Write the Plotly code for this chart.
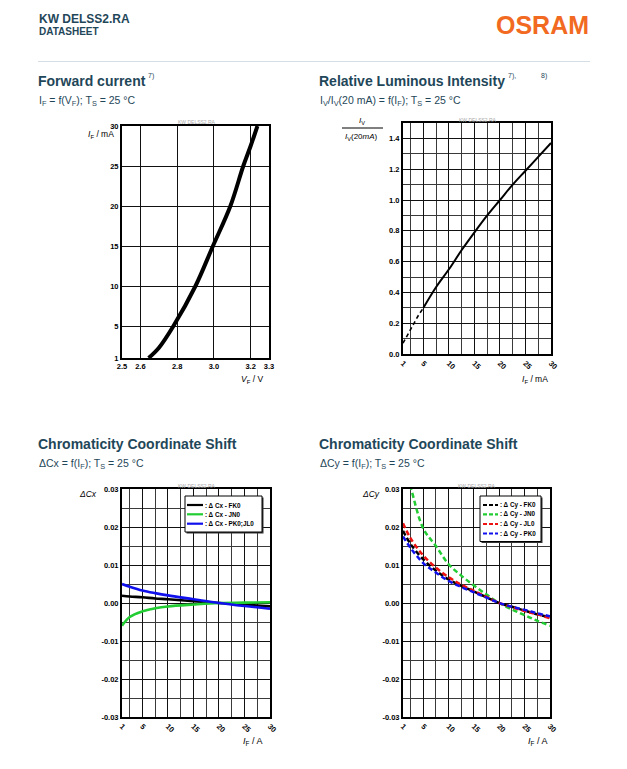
import plotly.graph_objects as go

W, H = 627, 769
OX, OY = 8, 8  # page body margin of the rendered html


def px(x):
    return (x - OX) / W


def py(y):
    return 1 - (y - OY) / H


FONT = "Liberation Sans, Arial, sans-serif"
TEAL = "#1f4759"
ORANGE = "#f26a21"

# ---------------- data ----------------
# Forward current
fc_vf = [2.645, 2.70, 2.78, 2.90, 2.995, 3.09, 3.16, 3.20, 3.237]
fc_if = [1, 2.25, 5, 10, 15, 20, 25, 27.5, 30]

# Relative luminous intensity
rl_if_dash = [1, 2, 3, 4, 5]
rl_iv_dash = [0.07, 0.13, 0.19, 0.25, 0.30]
rl_if = [5, 7.5, 10, 12.5, 15, 17.5, 20, 22.5, 25, 27.5, 30]
rl_iv = [0.30, 0.435, 0.55, 0.675, 0.79, 0.90, 1.00, 1.10, 1.19, 1.28, 1.37]

# Chromaticity shift Cx
cx_if = [1, 2.5, 5, 7.5, 10, 15, 20, 25, 30]
cx_fk0 = [0.0019, 0.0017, 0.0015, 0.0012, 0.0010, 0.0005, 0.0, -0.0004, -0.0009]
cx_jn0 = [-0.0060, -0.0037, -0.0022, -0.0014, -0.0009, -0.0004, 0.0, 0.0001, 0.0002]
cx_pk0jl0 = [0.0050, 0.0043, 0.0033, 0.0026, 0.0020, 0.0010, 0.0, -0.0008, -0.0015]
cx_names = [": \u0394 Cx - FK0", ": \u0394 Cx - JN0", ": \u0394 Cx - PK0;JL0"]
cx_colors = ["#000000", "#22cc33", "#1010ee"]

# Chromaticity shift Cy
cy_if = [1, 2.5, 5, 7.5, 10, 12.5, 15, 17.5, 20, 22.5, 25, 27.5, 30]
cy_fk0 = [0.0190, 0.0155, 0.0115, 0.0085, 0.0062, 0.0045, 0.0030, 0.0015, 0.0, -0.0010, -0.0020, -0.0030, -0.0038]
cy_jn0 = [0.0370, 0.0305, 0.0196, 0.0150, 0.0102, 0.0072, 0.0046, 0.0022, 0.0, -0.0017, -0.0032, -0.0047, -0.0060]
cy_jl0 = [0.0210, 0.0170, 0.0125, 0.0093, 0.0068, 0.0048, 0.0032, 0.0016, 0.0, -0.0011, -0.0021, -0.0030, -0.0040]
cy_pk0 = [0.0175, 0.0145, 0.0105, 0.0080, 0.0058, 0.0042, 0.0028, 0.0014, 0.0, -0.0010, -0.0018, -0.0027, -0.0035]
cy_names = [": \u0394 Cy - FK0", ": \u0394 Cy - JN0", ": \u0394 Cy - JL0", ": \u0394 Cy - PK0"]
cy_colors = ["#000000", "#22cc33", "#ee1111", "#1010ee"]

# tick labels
fc_xt = [2.5, 2.6, 2.8, 3.0, 3.2, 3.3]
fc_xl = ["2.5", "2.6", "2.8", "3.0", "3.2", "3.3"]
fc_yt = [1, 5, 10, 15, 20, 25, 30]
rl_yt = [0, 0.2, 0.4, 0.6, 0.8, 1.0, 1.2, 1.4]
if_t = [1, 5, 10, 15, 20, 25, 30]
c_yt = [0.03, 0.02, 0.01, 0.0, -0.01, -0.02, -0.03]
c_yl = ["0.03", "0.02", "0.01", "0.00", "-0.01", "-0.02", "-0.03"]

# ---------------- figure ----------------
fig = go.Figure()

fig.add_trace(go.Scatter(x=fc_vf, y=fc_if, mode="lines", line=dict(color="black", width=4, shape="spline"),
                         xaxis="x", yaxis="y", showlegend=False))
fig.add_trace(go.Scatter(x=rl_if_dash, y=rl_iv_dash, mode="lines", line=dict(color="black", width=1.6, dash="4px,3px"),
                         xaxis="x2", yaxis="y2", showlegend=False))
fig.add_trace(go.Scatter(x=rl_if, y=rl_iv, mode="lines", line=dict(color="black", width=2, shape="spline"),
                         xaxis="x2", yaxis="y2", showlegend=False))
for ys, nm, col in zip([cx_fk0, cx_jn0, cx_pk0jl0], cx_names, cx_colors):
    fig.add_trace(go.Scatter(x=cx_if, y=ys, name=nm, mode="lines", line=dict(color=col, width=2.6, shape="spline"),
                             xaxis="x3", yaxis="y3", showlegend=False))
for ys, nm, col in zip([cy_jn0, cy_fk0, cy_jl0, cy_pk0], [cy_names[1], cy_names[0], cy_names[2], cy_names[3]],
                       [cy_colors[1], cy_colors[0], cy_colors[2], cy_colors[3]]):
    fig.add_trace(go.Scatter(x=cy_if, y=ys, name=nm, mode="lines",
                             line=dict(color=col, width=2.5, dash="5px,3px", shape="spline"),
                             xaxis="x4", yaxis="y4", showlegend=False))

GRID = "#111111"
GRID2 = "#3a3a3a"
TF = dict(family=FONT, size=7.5, color="black")


def ax(domain, rng, tickvals, ticktext, anchor, minor=None, angle=0):
    d = dict(domain=domain, range=rng, tickmode="array", tickvals=tickvals,
             ticktext=["<b>%s</b>" % t for t in ticktext], tickfont=TF, ticks="", showgrid=True,
             gridcolor=GRID, gridwidth=1.3, zeroline=False, showline=True, linecolor="black",
             linewidth=2, mirror=True, anchor=anchor, tickangle=angle, fixedrange=True,
             automargin=False)
    if minor:
        d["minor"] = dict(showgrid=True, gridcolor=GRID2, gridwidth=1.2, ticks="", **minor)
    return d


ifl = [str(v) for v in if_t]

layout = dict(
    template="none",
    width=W, height=H, autosize=False, margin=dict(l=0, r=0, t=0, b=0, pad=0, autoexpand=False),
    paper_bgcolor="white", plot_bgcolor="white", font=dict(family=FONT, color="black"),
    showlegend=False,
    xaxis=ax([px(122), px(269)], [2.5, 3.3], fc_xt, fc_xl, "y"),
    yaxis=ax([py(358), py(126)], [1, 30], fc_yt, [str(v) for v in fc_yt], "x"),
    xaxis2=ax([px(403), px(551)], [1, 30], if_t, ifl, "y2", minor=dict(tick0=0, dtick=2.5), angle=45),
    yaxis2=ax([py(354), py(123)], [0, 1.5], rl_yt, ["%.1f" % v for v in rl_yt], "x2", minor=dict(tick0=0, dtick=0.1)),
    xaxis3=ax([px(122), px(270)], [1, 30], if_t, ifl, "y3", minor=dict(tick0=0, dtick=2.5), angle=45),
    yaxis3=ax([py(717), py(489)], [-0.03, 0.03], c_yt, c_yl, "x3", minor=dict(tick0=0, dtick=0.005)),
    xaxis4=ax([px(403), px(550)], [1, 30], if_t, ifl, "y4", minor=dict(tick0=0, dtick=2.5), angle=45),
    yaxis4=ax([py(717), py(489)], [-0.03, 0.03], c_yt, c_yl, "x4", minor=dict(tick0=0, dtick=0.005)),
)
fig.update_layout(**layout)

ann = []
shapes = []


def text(x, y, t, size, color="black", xanchor="left", yanchor="middle", bold=False):
    ann.append(dict(x=px(x), y=py(y), xref="paper", yref="paper", text=("<b>%s</b>" % t) if bold else t,
                    showarrow=False, xanchor=xanchor, yanchor=yanchor, borderpad=0,
                    font=dict(family=FONT, size=size, color=color)))


# header
text(38, 19, "KW DELSS2.RA", 12, TEAL, bold=True)
text(38, 31, "DATASHEET", 10, TEAL, bold=True)
text(590, 25, "OSRAM", 25, ORANGE, xanchor="right", bold=True)
shapes.append(dict(type="line", xref="paper", yref="paper", x0=px(38), x1=px(590), y0=py(61.5), y1=py(61.5),
                   line=dict(color="#d5dde5", width=1.2)))

# section titles
text(37, 81, "Forward current", 14, TEAL, bold=True)
text(147, 76, "7)", 7, TEAL)
text(38, 101, "I<sub>F</sub> = f(V<sub>F</sub>); T<sub>S</sub> = 25 \u00b0C", 10.5, TEAL)

text(318, 81, "Relative Luminous Intensity", 14, TEAL, bold=True)
text(507, 76, "7),", 7, TEAL)
text(540, 76, "8)", 7, TEAL)
text(319, 101, "I<sub>V</sub>/I<sub>V</sub>(20 mA) = f(I<sub>F</sub>); T<sub>S</sub> = 25 \u00b0C", 10.5, TEAL)

text(37, 444, "Chromaticity Coordinate Shift", 14, TEAL, bold=True)
text(38, 464, "\u0394Cx = f(I<sub>F</sub>); T<sub>S</sub> = 25 \u00b0C", 10.5, TEAL)
text(318, 444, "Chromaticity Coordinate Shift", 14, TEAL, bold=True)
text(319, 464, "\u0394Cy = f(I<sub>F</sub>); T<sub>S</sub> = 25 \u00b0C", 10.5, TEAL)

# watermarks
for (x, y) in [(197, 122.5), (478, 119.5), (197, 485.5), (477, 485.5)]:
    text(x, y, "KW DELSS2.RA", 5, "#a8a8a8", xanchor="center")

# axis labels
text(115, 134, "<i>I</i><sub>F</sub> / mA", 8.5, xanchor="right")
text(264, 379, "<i>V</i><sub>F</sub> / V", 8.5, xanchor="right")
text(362, 121, "<i>I</i><sub>V</sub>", 8, xanchor="center")
shapes.append(dict(type="line", xref="paper", yref="paper", x0=px(342), x1=px(383), y0=py(128), y1=py(128),
                   line=dict(color="black", width=1)))
text(362, 137, "<i>I</i><sub>V</sub>(20<i>mA</i>)", 8, xanchor="center")
text(549, 379, "<i>I</i><sub>F</sub> / mA", 8.5, xanchor="right")
text(98, 494, "<i>\u0394Cx</i>", 8.5, xanchor="right")
text(263, 741, "<i>I</i><sub>F</sub> / A", 9, xanchor="right")
text(381, 494, "<i>\u0394Cy</i>", 8.5, xanchor="right")
text(548, 741, "<i>I</i><sub>F</sub> / A", 9, xanchor="right")


# legends (drawn manually in paper space)
def legend_box(x0, x1, y0, y1, rows, names, colors, dash, lx0, lx1):
    shapes.append(dict(type="rect", xref="paper", yref="paper", x0=px(x0 + 1.5), x1=px(x1 + 1.5),
                       y0=py(y1 + 1.5), y1=py(y0 + 1.5), line=dict(width=0), fillcolor="#333333", layer="above"))
    shapes.append(dict(type="rect", xref="paper", yref="paper", x0=px(x0), x1=px(x1), y0=py(y1), y1=py(y0),
                       line=dict(color="black", width=1), fillcolor="white", layer="above"))
    for r, nm, col in zip(rows, names, colors):
        shapes.append(dict(type="line", xref="paper", yref="paper", x0=px(lx0), x1=px(lx1), y0=py(r), y1=py(r),
                           line=dict(color=col, width=2.2, dash=dash), layer="above"))
        text(lx1 + 0.5, r, "<b>%s</b>" % nm, 6.3)


legend_box(185, 262, 496, 532, [505, 514.3, 523.7], cx_names, cx_colors, "solid", 187, 203)
legend_box(480, 541, 496, 541.5, [505, 514.3, 524, 533.5], cy_names, cy_colors, "4px,2px", 483, 498)

fig.update_layout(annotations=ann, shapes=shapes)
fig.write_html("out.html")
